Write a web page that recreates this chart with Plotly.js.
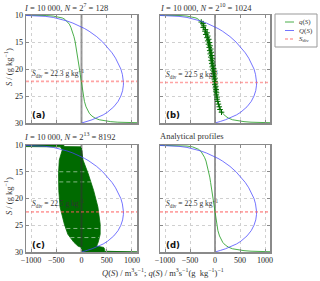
<!DOCTYPE html>
<html><head><meta charset="utf-8">
<script src="https://cdn.plot.ly/plotly-3.0.1.min.js"></script>
<style>body{margin:0;padding:0;background:#fff}#plot{width:320px;height:281px}</style>
</head><body><div id="plot"></div>
<script>
// Analytical profiles Q(S) and q(S)
const S_Q = [10.0, 10.05, 10.12, 10.25, 10.45, 10.75, 11.1, 11.5, 12.0, 12.5, 13.0, 13.5, 14.0, 15.0, 16.0, 17.0, 18.0, 19.0, 20.0, 21.0, 22.0, 22.5, 23.0, 24.0, 25.0, 26.0, 27.0, 27.5, 28.0, 28.5, 29.0, 29.4, 29.7, 29.9, 30.0];
const Q_vals = [-1300, -1100, -900, -720, -560, -420, -290, -170, -40, 60, 150, 230, 300, 420, 520, 605, 675, 735, 780, 810, 828, 832, 830, 815, 780, 725, 640, 585, 515, 430, 320, 210, 110, 40, 0];
const S_q = [10.0, 10.02, 10.05, 10.1, 10.2, 10.35, 10.55, 10.8, 11.2, 11.7, 12.3, 13.0, 14.0, 15.0, 16.0, 17.0, 18.0, 19.0, 20.0, 21.0, 22.0, 22.5, 23.0, 24.0, 25.0, 26.0, 27.0, 27.6, 28.2, 28.7, 29.1, 29.4, 29.6, 29.75, 29.85, 29.93, 30.0];
const q_vals = [-1300, -1050, -850, -700, -560, -450, -380, -330, -280, -240, -210, -180, -150, -125, -105, -88, -72, -56, -40, -25, -8, 0, 7, 20, 35, 58, 90, 115, 155, 205, 270, 350, 450, 580, 720, 900, 1300];
// Panel (b): numerical q(S) points, N = 1024
const bS = [11.3, 11.6, 12.0, 12.3, 12.7, 13.0, 13.3, 13.6, 13.9, 14.2, 14.5, 14.8, 15.1, 15.4, 15.7, 16.0, 16.3, 16.6, 16.9, 17.2, 17.5, 17.8, 18.1, 18.4, 18.7, 19.0, 19.3, 19.6, 19.9, 20.2, 20.5, 20.8, 21.1, 21.4, 21.7, 22.0, 22.3, 22.6, 22.9, 23.2, 23.5, 23.8, 24.1, 24.4, 24.8, 25.2, 25.6, 26.0, 26.5, 27.0, 27.5, 28.0];
const bq = [-275, -240, -225, -235, -190, -200, -160, -185, -145, -160, -125, -145, -110, -130, -100, -115, -85, -105, -75, -95, -65, -85, -55, -75, -50, -65, -38, -55, -28, -45, -20, -35, -10, -25, 0, -12, 0, 10, -3, 15, 8, 22, 15, 30, 25, 42, 40, 55, 68, 85, 100, 130];
// Panel (c): envelope of oscillating numerical q(S), N = 8192
const cS = [10.0, 10.3, 10.35, 10.9, 12.8, 15.3, 18.5, 21.6, 24.8, 26.7, 28.2, 28.9, 29.15, 29.5, 29.85, 29.95, 30.0];
const cLo = [-1150, -1100, -420, -380, -440, -455, -450, -425, -340, -270, -150, -70, 0, 0, 0, 0, 0];
const cHi = [-350, -350, 0, 0, 30, 130, 240, 325, 370, 370, 330, 300, 440, 460, 450, 800, 1100];
// Panel (c): salinity levels where the oscillating signal leaves thin gaps
const gapS = [15.0, 16.9, 25.6, 27.3];
const gapLo = [-440, -440, -300, -220];
const gapHi = [110, 180, 360, 350];
// Dividing salinities
const Sdiv = [22.3, 22.5, 22.5, 22.5];
const panelLabels = ['(a)', '(b)', '(c)', '(d)'];
const panelTitles = ['<i>I</i> = 10 000, <i>N</i> = 2<sup>7</sup> = 128', '<i>I</i> = 10 000, <i>N</i> = 2<sup>10</sup> = 1024', '<i>I</i> = 10 000, <i>N</i> = 2<sup>13</sup> = 8192', 'Analytical profiles'];
const xTicks = [-1000, -500, 0, 500, 1000];
const xTickText = ['\u22121000', '\u2212500', '0', '500', '1000'];
const yTicks = [10, 15, 20, 25, 30];

const SERIF = '"Liberation Serif", "DejaVu Serif", serif';
const GREEN = 'rgba(44,160,44,0.85)';
const BLUE = 'rgba(70,70,255,0.75)';
const RED = 'rgba(255,90,90,0.55)';
const DKGREEN = '#006a00';

const W = 320, H = 281;
const xDom = [[26/W, 137/W], [160/W, 270/W], [26/W, 137/W], [160/W, 270/W]];
const yDom = [[1-123/H, 1-15/H], [1-123/H, 1-15/H], [1-252/H, 1-145/H], [1-252/H, 1-145/H]];

const traces = [];
const layout = {
  width: W, height: H, autosize: false,
  margin: {l:0, r:0, t:0, b:0},
  paper_bgcolor: '#fff', plot_bgcolor: '#fff',
  showlegend: false,
  font: {family: SERIF, size: 8, color: '#222'},
  annotations: [], shapes: []
};

for (let i = 0; i < 4; i++) {
  const xa = 'x' + (i ? i+1 : ''), ya = 'y' + (i ? i+1 : '');
  const xk = 'xaxis' + (i ? i+1 : ''), yk = 'yaxis' + (i ? i+1 : '');
  layout[xk] = {
    domain: xDom[i], anchor: ya, range: [-1100, 1100],
    tickvals: xTicks, ticktext: xTickText, showticklabels: i >= 2,
    showgrid: true, gridcolor: '#d0d0d0', griddash: 'dot', gridwidth: 1,
    zeroline: false, showline: true, linecolor: '#8a8a8a', linewidth: 1.5, mirror: 'ticks',
    ticks: 'inside', ticklen: 3, tickcolor: '#8a8a8a',
    tickfont: {family: SERIF, size: 8, color: '#222'}, fixedrange: true
  };
  layout[yk] = {
    domain: yDom[i], anchor: xa, range: [30, 10],
    tickvals: yTicks, showticklabels: i % 2 === 0,
    showgrid: true, gridcolor: '#d0d0d0', griddash: 'dot', gridwidth: 1,
    zeroline: false, showline: true, linecolor: '#8a8a8a', linewidth: 1.5, mirror: 'ticks',
    ticks: 'inside', ticklen: 3, tickcolor: '#8a8a8a',
    tickfont: {family: SERIF, size: 8, color: '#222'}, fixedrange: true
  };
  // zero line
  traces.push({x: [0, 0], y: [10, 30], xaxis: xa, yaxis: ya, mode: 'lines',
    line: {color: 'rgba(130,130,130,0.8)', width: 2}, hoverinfo: 'skip'});
  if (i === 2) {
    const px = cHi.concat(cLo.slice().reverse());
    const py = cS.concat(cS.slice().reverse());
    traces.push({x: px, y: py, xaxis: xa, yaxis: ya, mode: 'lines', fill: 'toself',
      fillcolor: DKGREEN, line: {color: DKGREEN, width: 0.8}, hoverinfo: 'skip'});
    gapS.forEach((g, k) => {
      traces.push({x: [gapLo[k], gapHi[k]], y: [g, g], xaxis: xa, yaxis: ya, mode: 'lines',
        line: {color: 'rgba(220,235,220,0.75)', width: 0.8, dash: '4px,3px'}, hoverinfo: 'skip'});
    });
    traces.push({x: [0, 0], y: [11, 29], xaxis: xa, yaxis: ya, mode: 'lines',
      line: {color: 'rgba(40,60,40,0.7)', width: 2}, hoverinfo: 'skip'});
  } else {
    traces.push({x: q_vals, y: S_q, xaxis: xa, yaxis: ya, mode: 'lines',
      line: {color: GREEN, width: 1}, name: 'q(S)'});
  }
  if (i === 1) {
    traces.push({x: bq, y: bS, xaxis: xa, yaxis: ya, mode: 'markers',
      marker: {symbol: 'cross-thin', size: 4, line: {color: DKGREEN, width: 1}}, hoverinfo: 'skip'});
  }
  traces.push({x: Q_vals, y: S_Q, xaxis: xa, yaxis: ya, mode: 'lines',
    line: {color: BLUE, width: 1}, name: 'Q(S)'});
  traces.push({x: [-1100, 1100], y: [Sdiv[i], Sdiv[i]], xaxis: xa, yaxis: ya, mode: 'lines',
    line: {color: RED, width: 1.6, dash: '3px,2px'}, name: 'Sdiv'});
  layout.annotations.push({xref: xa, yref: ya, x: -1020, y: Sdiv[i] - 1.55, xanchor: 'left', yanchor: 'middle',
    text: '<i>S</i><sub>div</sub> = ' + Sdiv[i].toFixed(1) + ' g kg<sup>\u22121</sup>', showarrow: false,
    font: {family: SERIF, size: 7.5, color: '#333'}});
  layout.annotations.push({xref: xa, yref: ya, x: -1030, y: 28.6, xanchor: 'left', yanchor: 'middle',
    text: '<b>' + panelLabels[i] + '</b>', showarrow: false,
    font: {family: '"DejaVu Sans", sans-serif', size: 8.5, color: '#111'}});
  const tx = (i % 2 === 0) ? 22 : 158;
  const ty = (i < 2) ? 7 : 136;
  layout.annotations.push({xref: 'paper', yref: 'paper', x: tx / W, y: 1 - ty / H, xanchor: 'left', yanchor: 'middle',
    text: panelTitles[i], showarrow: false, font: {family: SERIF, size: 8.5, color: '#333'}});
}

// axis titles
layout.annotations.push({xref: 'paper', yref: 'paper', x: 8/W, y: 1 - 67/H, textangle: -90, xanchor: 'center', yanchor: 'middle',
  text: '<i>S</i> / (g kg<sup>\u22121</sup>)', showarrow: false, font: {family: SERIF, size: 8.5, color: '#333'}});
layout.annotations.push({xref: 'paper', yref: 'paper', x: 8/W, y: 1 - 196/H, textangle: -90, xanchor: 'center', yanchor: 'middle',
  text: '<i>S</i> / (g kg<sup>\u22121</sup>)', showarrow: false, font: {family: SERIF, size: 8.5, color: '#333'}});
layout.annotations.push({xref: 'paper', yref: 'paper', x: 163/W, y: 1 - 272/H, xanchor: 'center', yanchor: 'middle',
  text: '<i>Q</i>(<i>S</i>) / m<sup>3</sup>s<sup>\u22121</sup>; <i>q</i>(<i>S</i>) / m<sup>3</sup>s<sup>\u22121</sup>(g  kg<sup>\u22121</sup>)<sup>\u22121</sup>',
  showarrow: false, font: {family: SERIF, size: 8.5, color: '#333'}});

// manual legend
layout.shapes.push({type: 'rect', xref: 'paper', yref: 'paper', x0: 275/W, x1: 317/W, y0: 1 - 47/H, y1: 1 - 14/H,
  line: {color: '#999', width: 1}, fillcolor: '#fff'});
const legItems = [['<i>q</i>(<i>S</i>)', GREEN], ['<i>Q</i>(<i>S</i>)', BLUE], ['<i>S</i><sub>div</sub>', RED]];
legItems.forEach((it, k) => {
  const yy = 1 - (22 + k * 8.5) / H;
  layout.shapes.push({type: 'line', xref: 'paper', yref: 'paper', x0: 285/W, x1: 294/W, y0: yy, y1: yy,
    line: {color: it[1], width: k === 2 ? 1.6 : 1, dash: k === 2 ? '3px,2px' : 'solid'}});
  layout.annotations.push({xref: 'paper', yref: 'paper', x: 297/W, y: yy, xanchor: 'left', yanchor: 'middle',
    text: it[0], showarrow: false, font: {family: SERIF, size: 7, color: '#333'}});
});

Plotly.newPlot('plot', traces, layout, {staticPlot: true, displayModeBar: false});
</script></body></html>
